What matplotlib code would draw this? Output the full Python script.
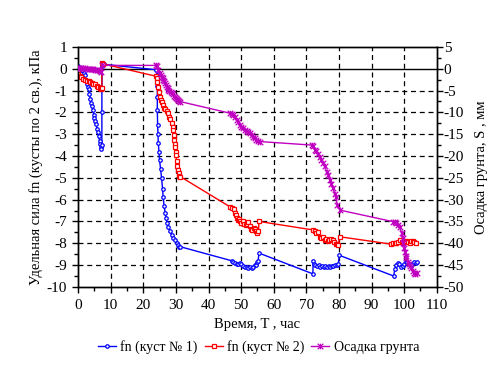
import numpy as np
import matplotlib
matplotlib.use("Agg")
import matplotlib.pyplot as plt
from matplotlib.path import Path
from matplotlib.ticker import MultipleLocator

plt.rcParams['font.family'] = ['Liberation Serif', 'DejaVu Serif']
plt.rcParams['axes.unicode_minus'] = False

# fn, куст № 1 (кПа)
t1 = [0.0, 0.3, 0.6, 1.0, 1.4, 1.8, 2.1, 2.4, 2.7, 3.0, 3.2, 3.5, 3.8, 4.0, 4.2,
      4.5, 4.8, 5.0, 5.2, 5.5, 5.8, 6.0, 6.3, 6.6, 6.8, 7.0, 7.1, 7.3, 7.3, 7.3,
      7.4, 7.8, 24.0,
      24.2, 24.3, 24.3, 24.3, 24.4, 24.5, 24.6, 24.8, 25.0, 25.3, 25.6, 25.9,
      26.1, 26.4, 26.7, 27.0, 27.3, 27.7, 28.2, 28.7, 29.2, 29.7, 30.2, 30.7,
      31.0, 31.4,
      47.1, 47.6, 48.1, 48.6, 49.1, 49.6, 50.1, 50.6, 51.2, 51.7, 52.2, 52.7,
      53.2, 53.7, 54.2, 54.7, 54.9, 55.2, 55.5,
      72.0, 72.1, 72.4, 72.8, 73.3, 73.8, 74.3, 74.8, 75.3, 75.8, 76.3, 76.8,
      77.3, 77.8, 78.3, 78.8, 79.3, 79.8, 80.1,
      96.8, 97.1, 97.5, 98.0, 98.5, 99.0, 99.5, 100.0, 100.5, 101.0, 101.5,
      102.0, 102.5, 103.0, 103.5, 103.9]
fn1 = [0.12, 0.05, 0.0, -0.05, -0.1, -0.2, -0.3, -0.5, -0.7, -0.85, -0.95,
       -1.15, -1.4, -1.55, -1.7, -1.9, -2.1, -2.25, -2.4, -2.55, -2.75, -2.9,
       -3.1, -3.3, -3.45, -3.6, -3.7, -3.5, -2.0, -0.9, 0.1, 0.2, -0.05,
       -0.3, -0.8, -1.3, -1.9, -2.6, -3.0, -3.4, -3.8, -4.2, -4.6, -5.0, -5.5,
       -5.9, -6.3, -6.6, -6.85, -7.05, -7.25, -7.45, -7.62, -7.75, -7.85,
       -7.98, -8.08, -8.15, -8.16,
       -8.8, -8.85, -8.9, -8.95, -8.95, -8.92, -8.95, -9.05, -9.1, -9.1,
       -9.12, -9.1, -9.12, -9.1, -9.0, -9.0, -8.85, -8.8, -8.45,
       -9.4, -8.8, -8.95, -9.0, -9.05, -9.0, -9.08, -9.05, -9.1, -9.05, -9.1,
       -9.05, -9.08, -9.05, -9.05, -9.0, -9.0, -8.95, -8.55,
       -9.5, -9.2, -9.0, -8.9, -8.95, -9.08, -9.05, -8.95, -8.88, -8.85,
       -8.95, -9.05, -8.95, -8.85, -8.9, -8.88]

# fn, куст № 2 (кПа)
t2 = [0.0, 0.1, 0.5, 1.0, 1.6, 2.1, 2.6, 3.2, 3.7, 4.2, 4.7, 5.2, 5.7, 6.2,
      6.7, 7.0, 7.3, 7.3, 7.6, 24.0,
      24.1, 24.3, 24.5, 24.8, 25.1, 25.4, 25.6, 26.1, 26.5, 26.8, 27.2, 27.7,
      28.0, 28.3, 28.7, 29.0, 29.2, 29.3, 29.4, 29.6, 29.7, 29.9, 30.0, 30.2,
      30.4, 30.6, 30.8, 31.0, 31.4,
      46.6, 47.3, 47.8, 48.1, 48.4, 48.7, 49.1, 49.5, 49.8, 50.1, 50.6, 51.0,
      51.4, 51.8, 52.2, 52.6, 53.0, 53.4, 53.8, 54.2, 54.6, 55.0, 55.3, 55.5,
      72.1, 72.6, 73.1, 73.6, 74.1, 74.6, 75.1, 75.6, 76.1, 76.6, 77.1, 77.6,
      78.2, 78.6, 79.0, 79.5, 79.8, 80.2,
      96.1, 96.6, 97.1, 97.6, 98.1, 98.7, 99.2, 99.7, 100.2, 100.7, 101.2,
      101.7, 102.2, 102.7, 103.1, 103.5]
fn2 = [-0.1, -0.25, -0.33, -0.4, -0.47, -0.5, -0.55, -0.58, -0.62, -0.65,
       -0.68, -0.72, -0.78, -0.82, -0.88, -0.92, -0.9, 0.25, 0.22, -0.35,
       -0.45, -0.6, -0.85, -1.05, -1.28, -1.42, -1.52, -1.66, -1.78, -1.86,
       -1.95, -2.05, -2.2, -2.3, -2.5, -2.65, -2.8, -3.05, -3.27, -3.45, -3.6,
       -3.8, -3.95, -4.25, -4.45, -4.65, -4.8, -4.9, -4.95,
       -6.33, -6.38, -6.45, -6.6, -6.72, -6.85, -6.95, -6.9, -7.0, -7.05,
       -6.98, -7.12, -7.18, -7.1, -7.02, -7.22, -7.35, -7.38, -7.28, -7.35,
       -7.45, -7.55, -7.45, -7.0,
       -7.39, -7.45, -7.55, -7.5, -7.7, -7.78, -7.7, -7.85, -7.8, -7.9, -7.85,
       -7.82, -7.85, -7.95, -8.01, -8.05, -8.1, -7.7,
       -8.04, -8.0, -7.98, -8.0, -7.93, -7.85, -7.95, -7.98, -7.9, -7.88,
       -7.95, -7.98, -7.9, -7.88, -7.95, -7.98]

# Осадка грунта S (мм)
t3 = [0.0, 0.5, 1.0, 1.6, 2.2, 2.7, 3.2, 3.7, 4.2, 4.7, 5.2, 5.7, 6.2, 6.7,
      7.1, 7.3, 24.0,
      24.2, 24.6, 25.1, 25.4, 25.6, 25.9, 26.1, 26.4, 26.7, 27.0, 27.2, 27.5,
      27.7, 28.0, 28.4, 28.7, 29.0, 29.4, 29.7, 30.0, 30.4, 30.7, 31.0, 31.4,
      46.6, 47.1, 47.6, 48.1, 48.6, 49.1, 49.6, 50.1, 50.6, 51.1, 51.7, 52.2,
      52.7, 53.2, 53.7, 54.2, 54.7, 55.2, 55.8,
      71.6, 72.1, 72.6, 73.1, 73.6, 74.1, 74.6, 75.2, 75.7, 76.2, 76.7, 77.2,
      77.7, 78.2, 78.7, 79.0, 79.5, 80.3,
      96.6, 97.1, 97.6, 98.2, 98.7, 99.2, 99.5, 99.7, 100.0, 100.2, 100.5,
      100.7, 101.2, 101.5, 101.9, 102.2, 102.6, 102.9, 103.3, 103.8]
s = [0.25, 0.1, 0.1, 0.1, 0.05, 0.0, -0.1, -0.1, -0.15, -0.15, -0.2, -0.25,
     -0.35, -0.6, -0.85, 0.75, 0.75,
     0.5, -0.25, -1.0, -1.5, -1.8, -2.2, -2.55, -2.9, -3.35, -3.8, -4.1, -4.5,
     -4.85, -5.1, -5.4, -5.6, -5.9, -6.2, -6.4, -6.7, -6.95, -7.15, -7.3,
     -7.55,
     -10.2, -10.4, -10.6, -11.1, -11.75, -12.3, -12.9, -13.3, -13.65, -14.0,
     -14.3, -14.6, -14.8, -15.2, -15.55, -15.9, -16.35, -16.6, -16.7,
     -17.5, -17.6, -18.6, -18.8, -19.6, -20.15, -20.9, -21.7, -22.4, -23.6,
     -24.4, -25.5, -26.5, -27.4, -28.6, -29.4, -31.2, -32.4,
     -35.05, -35.2, -35.45, -35.8, -36.2, -37.75, -38.8, -40.0, -41.0, -41.95,
     -42.8, -43.45, -44.2, -44.65, -45.3, -45.75, -46.4, -46.75, -47.0, -46.9]

# Excel-like "star" marker: x with a vertical bar
star = Path([(-1, -1), (1, 1), (-1, 1), (1, -1), (0, -1), (0, 1)],
            [Path.MOVETO, Path.LINETO, Path.MOVETO, Path.LINETO,
             Path.MOVETO, Path.LINETO])

fig = plt.figure(figsize=(4.88, 3.66), dpi=100)
ax = fig.add_axes([0.16, 0.216, 0.735, 0.656])
ax2 = ax.twinx()

dash = (0, (4, 3))
for xv in range(10, 110, 10):
    ax.axvline(xv, color='black', lw=0.9, ls=dash, zorder=1)
for yv in range(-9, 0):
    ax.axhline(yv, color='black', lw=0.9, ls=dash, zorder=1)
ax.axhline(0, color='black', lw=1, zorder=1)

l1, = ax.plot(t1, fn1, color='#0000FF', lw=1, marker='o', ms=2.5,
              mfc='white', mew=0.9, label='fn (куст № 1)', zorder=3)
l2, = ax.plot(t2, fn2, color='#FF0000', lw=1, marker='s', ms=3.5,
              mfc='white', mew=0.9, label='fn (куст № 2)', zorder=3)
l3, = ax2.plot(t3, s, color='#C000C0', lw=1, marker=star, ms=4,
               mew=0.9, label='Осадка грунта', zorder=3)

ax.set_xlim(0, 110)
ax.set_ylim(-10, 1)
ax2.set_ylim(-50, 5)
ax.xaxis.set_major_locator(MultipleLocator(10))
ax.xaxis.set_minor_locator(MultipleLocator(5))
ax.yaxis.set_major_locator(MultipleLocator(1))
ax.yaxis.set_minor_locator(MultipleLocator(0.5))
ax2.yaxis.set_major_locator(MultipleLocator(5))
ax2.yaxis.set_minor_locator(MultipleLocator(2.5))

for a in (ax, ax2):
    a.tick_params(which='major', direction='out', length=4, width=1,
                  labelsize=11)
    a.tick_params(which='minor', direction='out', length=3, width=1)
    for sp in a.spines.values():
        sp.set_linewidth(1)
ax.tick_params(axis='y', which='major', pad=4)
ax.tick_params(axis='x', which='major', pad=5)
ax2.tick_params(axis='y', which='major', pad=1)

ax.set_xlabel('Время, T , час', fontsize=10.5)
ax.xaxis.set_label_coords(0.5, -0.129)
ax.set_ylabel('Удельная сила fn (кусты по 2 св.), кПа', fontsize=10.5)
ax.yaxis.set_label_coords(-0.0975, 0.5)
ax2.set_ylabel('Осадка грунта, S , мм', fontsize=10.5)
ax2.yaxis.set_label_coords(1.106, 0.5)

fig.legend(handles=[l1, l2, l3], loc='center', bbox_to_anchor=(0.53, 0.052),
           ncol=3, frameon=False, fontsize=10, handlelength=1.3,
           handletextpad=0.3, columnspacing=0.5)

fig.savefig('out.png', dpi=100)
